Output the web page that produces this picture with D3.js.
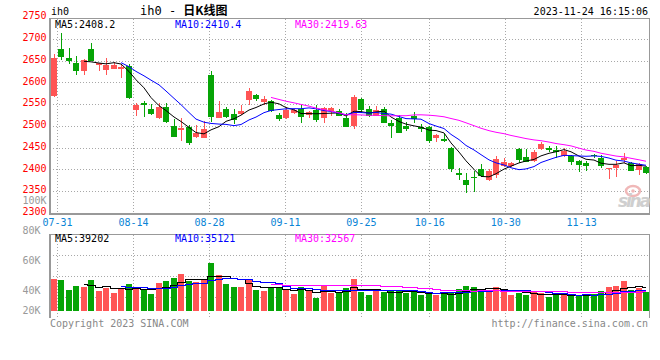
<!DOCTYPE html>
<html><head><meta charset="utf-8">
<script src="https://cdn.jsdelivr.net/npm/d3@7"></script>
<style>body{margin:0;background:#fff}svg{display:block}</style>
</head><body><svg id="c" width="660" height="360"></svg>
<script>
const dates = ["07-28","07-31","08-01","08-02","08-03","08-04","08-07","08-08","08-09","08-10","08-11","08-14","08-15","08-16","08-17","08-18","08-21","08-22","08-23","08-24","08-25","08-28","08-29","08-30","08-31","09-01","09-04","09-05","09-06","09-07","09-08","09-11","09-12","09-13","09-14","09-15","09-18","09-19","09-20","09-21","09-22","09-25","09-26","09-27","09-28","10-09","10-10","10-11","10-12","10-13","10-16","10-17","10-18","10-19","10-20","10-23","10-24","10-25","10-26","10-27","10-30","10-31","11-01","11-02","11-03","11-06","11-07","11-08","11-09","11-10","11-13","11-14","11-15","11-16","11-17","11-20","11-21","11-22","11-23","11-24"];
const opens = [2569,2678,2657,2645,2628,2678,2640,2630,2631,2632,2639,2538,2554,2540,2520,2544,2500,2491,2499,2476,2474,2618,2520,2540,2528,2528,2560,2573,2557,2558,2526,2518,2530,2540,2526,2537,2518,2535,2536,2520,2501,2563,2540,2524,2539,2508,2518,2501,2524,2499,2499,2472,2471,2450,2393,2377,2383,2402,2377,2388,2409,2409,2448,2430,2420,2448,2451,2445,2432,2432,2420,2416,2433,2428,2401,2403,2422,2415,2400,2407];
const highs = [2666,2714,2680,2661,2655,2691,2646,2657,2648,2640,2643,2553,2559,2551,2553,2554,2516,2518,2503,2503,2512,2627,2558,2545,2540,2549,2587,2575,2570,2560,2531,2545,2540,2549,2536,2549,2544,2544,2540,2530,2572,2566,2546,2547,2544,2514,2526,2510,2534,2505,2500,2482,2482,2453,2405,2392,2398,2414,2402,2432,2428,2419,2450,2447,2445,2465,2455,2455,2449,2434,2423,2420,2436,2434,2404,2421,2438,2418,2415,2409];
const lows = [2567,2653,2644,2619,2619,2649,2628,2619,2631,2612,2563,2524,2522,2527,2516,2508,2475,2466,2457,2472,2473,2511,2519,2518,2505,2527,2549,2558,2549,2534,2512,2516,2528,2508,2518,2511,2508,2524,2523,2498,2494,2531,2521,2523,2507,2474,2484,2490,2507,2488,2461,2463,2465,2396,2377,2346,2350,2384,2374,2382,2406,2406,2415,2417,2418,2446,2440,2426,2430,2411,2396,2398,2427,2403,2380,2383,2415,2398,2388,2390];
const closes = [2657,2659,2651,2628,2652,2651,2645,2642,2641,2637,2565,2550,2549,2529,2544,2509,2476,2497,2461,2485,2494,2522,2534,2522,2515,2535,2581,2563,2563,2535,2516,2538,2537,2521,2534,2514,2541,2541,2524,2499,2568,2537,2524,2537,2508,2501,2485,2494,2517,2493,2467,2480,2467,2402,2388,2366,2382,2386,2397,2424,2419,2416,2423,2419,2442,2460,2446,2440,2444,2417,2411,2409,2431,2408,2404,2411,2426,2398,2413,2393];
const volumes = [53600,51900,35000,41700,40100,51900,33300,38900,29900,36700,45100,40100,35000,28200,46800,50200,55300,62500,50700,49000,53600,81100,60300,45100,40100,40100,51900,35000,33300,40100,38900,36700,28200,40100,35000,21000,41700,30400,32100,38900,53600,32100,26500,33300,32100,35000,33300,29400,35000,26500,29100,26200,29100,31800,36400,41400,40300,36400,34700,40300,31800,26200,30100,26200,31800,29100,23400,29100,26200,26200,24500,28000,29000,33500,40200,41500,50000,35500,37500,31510];
const priceTicks = [2300,2350,2400,2450,2500,2550,2600,2650,2700,2750];
const dateTicks = ["07-31","08-14","08-28","09-11","09-25","10-16","10-30","11-13"];
const volTickValues = [100000,80000,60000,40000,20000];
const volTickLabels = ["100K","80K","60K","40K","20K"];
const maPeriods = [5,10,30];
const maColors = ["#000000","#0000ff","#ff00ff"];
const priceLegendValues = ["2408.2","2410.4","2419.63"];
const volLegendValues = ["39202","35121","32567"];
const symbol = "ih0";
const titleCN = "日K线图";
const stamp = "2023-11-24 16:15:06";

const RED = "#ff5555", GREEN = "#06a406", GRID = "#a8a8a8", AXIS = "#999999";
const MONO = "'DejaVu Sans Mono', monospace";
const L = 50, R = 650;
const svg = d3.select("#c");
const px = v => Math.floor(v) + 0.5;

const x = d3.scaleBand().domain(dates).range([L, R]).paddingInner(0.2).paddingOuter(0.1);
const xg = d3.scalePoint().domain(dates).range([L, R]);
const y = d3.scaleLinear().domain([2300, 2750]).range([213.3, 17.55]);
const yv = d3.scaleLinear().domain([0, 129000]).range([310.7, 234.3]);
const yvLab = d3.scaleLinear().domain([40000, 100000]).range([290, 200.7]);
const cx = d => Math.round(x(d)) + 3;

const data = dates.map((d, i) => ({d, o: opens[i], h: highs[i], l: lows[i], c: closes[i], v: volumes[i]}));
function ma(arr, n) { return arr.map((_, i) => i < n - 1 ? null : d3.mean(arr.slice(i - n + 1, i + 1))); }

// ---------- grids ----------
const g = svg.append("g").attr("stroke", GRID).attr("stroke-dasharray", "1,2").attr("shape-rendering", "crispEdges");
priceTicks.filter(t => t > 2300 && t < 2750).forEach(t => {
  g.append("line").attr("x1", L).attr("x2", R).attr("y1", px(y(t))).attr("y2", px(y(t)));
});
dateTicks.forEach(d => {
  const xx = px(xg(d));
  g.append("line").attr("x1", xx).attr("x2", xx).attr("y1", 19).attr("y2", 213);
  g.append("line").attr("x1", xx).attr("x2", xx).attr("y1", 235).attr("y2", 318);
});
[255.5, 276.5, 297.5].forEach(yy => g.append("line").attr("x1", L).attr("x2", R).attr("y1", yy).attr("y2", yy));

// ---------- frames ----------
const f = svg.append("g").attr("fill", AXIS).attr("shape-rendering", "crispEdges");
f.append("rect").attr("x", L).attr("y", 18).attr("width", R - L).attr("height", 1);
f.append("rect").attr("x", 49).attr("y", 18).attr("width", 2).attr("height", 197);
f.append("rect").attr("x", R - 1).attr("y", 18).attr("width", 1).attr("height", 196);
f.append("rect").attr("x", L).attr("y", 213).attr("width", R - L).attr("height", 2);
f.append("rect").attr("x", L).attr("y", 234).attr("width", R - L).attr("height", 1);
f.append("rect").attr("x", 49).attr("y", 234).attr("width", 2).attr("height", 84);
f.append("rect").attr("x", R - 1).attr("y", 234).attr("width", 1).attr("height", 84);

// ---------- watermark ----------
const wm = svg.append("g");
wm.append("ellipse").attr("cx", 633).attr("cy", 191).attr("rx", 7).attr("ry", 5).attr("fill", "none").attr("stroke", "#f0b8b8").attr("stroke-width", 2.5);
wm.append("circle").attr("cx", 633).attr("cy", 191).attr("r", 1.8).attr("fill", "#f0b8b8");
wm.append("text").attr("x", 618).attr("y", 207).attr("font-family", "'DejaVu Sans', sans-serif").attr("font-size", 17).attr("font-style", "italic").attr("font-weight", "bold").attr("fill", "#cfcfcf").attr("textLength", 33).text("sina");

// ---------- candles ----------
const cg = svg.append("g").attr("shape-rendering", "crispEdges");
data.forEach(p => {
  const up = p.c >= p.o;
  const col = up ? RED : GREEN;
  const bx = Math.round(x(p.d));
  const top = Math.round(y(Math.max(p.o, p.c)));
  const bot = Math.round(y(Math.min(p.o, p.c)));
  cg.append("rect").attr("x", bx + 3).attr("width", 1).attr("y", Math.round(y(p.h))).attr("height", Math.max(1, Math.round(y(p.l)) - Math.round(y(p.h)))).attr("fill", col);
  cg.append("rect").attr("x", bx).attr("width", x.bandwidth()).attr("y", top).attr("height", Math.max(1, bot - top)).attr("fill", col);
  const vt = Math.round(yv(p.v));
  cg.append("rect").attr("x", bx).attr("width", x.bandwidth()).attr("y", vt).attr("height", Math.round(yv(0)) - vt).attr("fill", col);
});

// ---------- MA lines ----------
maPeriods.forEach((n, k) => {
  const m = ma(closes, n);
  const line = d3.line().defined((d, i) => m[i] != null).x((d, i) => cx(d)).y((d, i) => y(m[i]));
  svg.append("path").datum(dates).attr("d", line).attr("fill", "none").attr("stroke", maColors[k]).attr("stroke-width", 1);
  const mv = ma(volumes, n);
  const vline = d3.line().curve(d3.curveStep).defined((d, i) => mv[i] != null).x((d, i) => cx(d)).y((d, i) => Math.round(yv(mv[i])) + 0.5);
  svg.append("path").datum(dates).attr("d", vline).attr("fill", "none").attr("stroke", maColors[k]).attr("stroke-width", 1).attr("shape-rendering", "crispEdges");
});

// ---------- texts ----------
const T = (xx, yy, txt, opt = {}) => svg.append("text").attr("x", xx).attr("y", yy)
  .attr("font-family", opt.font || MONO).attr("font-size", opt.size || 10)
  .attr("fill", opt.fill || "#000").attr("text-anchor", opt.anchor || "start")
  .attr("font-weight", opt.weight || "normal").text(txt);

priceTicks.forEach(t => T(46.5, y(t) + 1.7, String(t), {fill: "#ff0000", anchor: "end"}));
volTickValues.forEach((v, i) => {
  const yy = Math.min(yvLab(v), 310);
  T(i === 0 ? 46.5 : 40.5, yy + 3.6, volTickLabels[i], {fill: "#999999", anchor: "end"});
});
dateTicks.forEach(d => T(xg(d), 225.5, d, {fill: "#0a84d6", anchor: "middle"}));

T(51, 15, symbol);
const title = svg.append("text").attr("x", 140).attr("y", 15).attr("font-size", 12);
title.append("tspan").attr("font-family", MONO).text(symbol + " - ");
title.append("tspan").attr("font-family", "'Noto Sans CJK SC', sans-serif").attr("font-weight", "bold").text(titleCN);
T(648, 15, stamp, {anchor: "end"});

maPeriods.forEach((n, k) => {
  T(55 + 120 * k, 27.8, "MA" + n + ":" + priceLegendValues[k], {fill: maColors[k]});
  T(55 + 120 * k, 242, "MA" + n + ":" + volLegendValues[k], {fill: maColors[k]});
});
T(50, 327, "Copyright 2023 SINA.COM", {fill: "#888888"});
T(648, 327, "http://finance.sina.com.cn", {fill: "#888888", anchor: "end"});
</script></body></html>
